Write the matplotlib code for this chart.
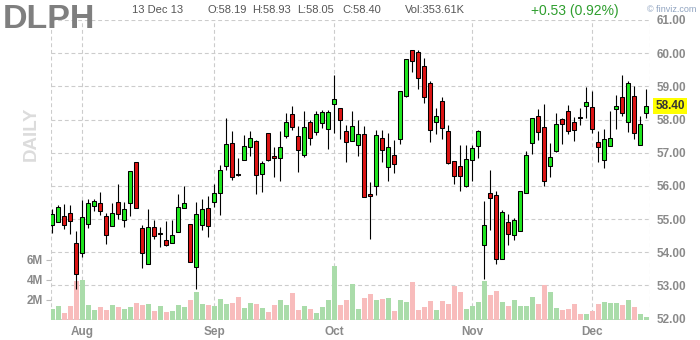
import numpy as np
import matplotlib
matplotlib.use("Agg")
import matplotlib.pyplot as plt
from matplotlib.transforms import blended_transform_factory

plt.rcParams['font.family'] = ['Liberation Sans', 'DejaVu Sans']

# ---------------- data ----------------
opens = [54.82, 54.91, 55.09, 55.19, 54.28, 53.98, 54.85, 55.38, 55.49, 55.10,
         54.79, 55.52, 54.98, 55.49, 56.72, 54.73, 53.65, 54.76, 54.55, 54.37,
         54.28, 54.61, 55.34, 54.85, 53.56, 54.81, 55.34, 55.51, 55.79, 56.59,
         57.29, 56.36, 56.77, 57.17, 57.36, 56.36, 57.59, 56.91, 56.84, 57.49,
         58.16, 57.50, 56.92, 57.92, 57.62, 57.89, 57.71, 58.47, 58.34, 57.66,
         57.34, 57.22, 57.56, 55.76, 56.00, 57.44, 56.57, 56.94, 57.41, 58.72,
         60.08, 60.03, 59.60, 59.10, 57.94, 58.55, 57.64, 56.74, 56.59, 55.99,
         56.78, 57.19, 54.21, 55.79, 55.73, 53.80, 54.91, 54.52, 54.64, 55.79,
         57.29, 58.11, 57.77, 56.59, 57.05, 58.01, 58.27, 57.94, 58.09, 58.40,
         58.37, 57.32, 56.79, 57.19, 58.32, 58.68, 57.92, 58.71, 57.24, 58.19]
highs = [55.29, 55.42, 55.44, 55.41, 54.63, 55.56, 55.59, 55.61, 55.82, 55.17,
         55.47, 56.06, 55.52, 56.45, 56.72, 54.83, 55.31, 54.98, 54.76, 54.94,
         54.98, 55.77, 56.01, 54.85, 55.50, 55.61, 55.71, 56.07, 56.64, 58.04,
         57.66, 56.83, 57.54, 57.66, 57.38, 56.74, 57.59, 57.18, 57.66, 58.20,
         58.41, 57.79, 58.26, 57.99, 58.27, 58.29, 58.29, 59.35, 58.34, 57.84,
         58.26, 57.99, 57.79, 56.11, 57.69, 57.67, 57.59, 57.39, 58.85, 59.82,
         60.10, 60.08, 59.85, 59.15, 58.34, 58.67, 57.84, 56.74, 57.24, 57.22,
         57.22, 57.69, 55.55, 56.49, 55.86, 55.28, 55.16, 55.03, 55.84, 57.06,
         58.06, 58.32, 58.47, 57.29, 58.21, 58.06, 58.44, 58.09, 58.36, 58.97,
         58.85, 57.66, 57.72, 58.26, 58.75, 59.34, 59.16, 59.01, 58.12, 58.93]
lows = [54.57, 54.90, 54.71, 54.54, 52.90, 53.85, 54.72, 55.24, 55.12, 54.24,
        54.78, 55.00, 54.76, 55.09, 55.34, 53.52, 53.65, 54.40, 54.15, 54.20,
        54.28, 54.61, 55.34, 53.71, 52.90, 54.68, 54.45, 55.36, 55.11, 56.49,
        56.19, 56.30, 56.77, 56.91, 55.75, 55.81, 56.75, 56.26, 56.14, 57.43,
        57.69, 56.41, 56.87, 57.22, 57.52, 57.74, 57.11, 57.59, 57.41, 56.72,
        57.34, 56.91, 55.67, 54.41, 55.72, 56.72, 56.16, 56.38, 57.26, 58.67,
        59.43, 58.93, 58.50, 57.31, 57.55, 57.41, 56.65, 56.07, 55.84, 55.96,
        56.16, 56.85, 53.20, 54.67, 53.65, 53.80, 54.21, 54.36, 54.64, 55.79,
        56.96, 57.38, 55.99, 56.27, 57.02, 57.26, 57.56, 57.34, 57.84, 58.04,
        57.59, 56.72, 56.54, 57.19, 57.71, 58.10, 57.61, 57.41, 57.24, 58.05]
closes = [55.16, 55.37, 54.82, 54.93, 53.35, 55.07, 55.49, 55.55, 55.24, 54.52,
          55.19, 55.16, 55.31, 56.45, 55.34, 53.98, 54.76, 54.50, 54.55, 54.22,
          54.52, 55.37, 55.47, 53.71, 55.14, 55.31, 54.78, 55.79, 56.48, 57.26,
          56.26, 56.34, 57.20, 57.44, 56.32, 56.70, 56.78, 56.84, 57.17, 57.92,
          57.77, 57.07, 57.77, 57.44, 58.16, 58.24, 58.24, 58.62, 57.99, 57.31,
          57.79, 57.56, 55.67, 55.70, 57.53, 57.08, 57.17, 56.66, 58.85, 59.82,
          59.77, 59.25, 58.69, 57.69, 58.12, 57.74, 56.70, 56.31, 56.30, 56.81,
          57.14, 57.64, 54.83, 55.64, 53.80, 55.21, 54.56, 54.96, 55.84, 56.94,
          58.04, 57.62, 56.14, 56.87, 57.86, 57.86, 57.66, 57.69, 58.04, 58.54,
          57.72, 57.16, 57.42, 57.45, 58.41, 58.21, 59.09, 57.59, 57.87, 58.40]
volumes_m = [1.13, 1.4, 0.7, 1.4, 3.93, 4.0, 1.5, 1.0, 1.33, 1.0,
             1.5, 1.33, 1.13, 1.3, 1.7, 1.5, 1.6, 0.9, 1.4, 0.8,
             0.9, 1.5, 1.3, 2.03, 2.8, 1.6, 1.47, 1.4, 2.1, 1.6,
             1.7, 2.3, 1.2, 1.7, 1.6, 1.2, 0.8, 1.5, 2.0, 1.5,
             2.7, 1.0, 1.4, 1.1, 0.7, 1.3, 2.0, 5.4, 1.5, 2.0,
             3.6, 1.1, 2.2, 2.6, 2.0, 2.1, 2.2, 0.9, 2.0, 1.8,
             3.8, 1.0, 1.3, 1.9, 1.0, 1.9, 1.6, 3.4, 2.8, 1.1,
             1.4, 1.8, 3.9, 2.5, 2.9, 1.8, 1.4, 2.0, 1.4, 1.4,
             2.3, 1.6, 3.5, 2.8, 1.2, 1.0, 1.1, 1.6, 0.6, 0.6,
             0.9, 1.6, 1.8, 1.7, 1.7, 1.5, 2.0, 1.3, 0.6, 0.35]
month_labels = ['Aug', 'Sep', 'Oct', 'Nov', 'Dec']
month_start_idx = [5, 27, 47, 70, 90]
price_ticks = [52, 53, 54, 55, 56, 57, 58, 59, 60, 61]
vol_ticks_m = [2, 4, 6]
vol_tick_labels = ['2M', '4M', '6M']
ticker = 'DLPH'
period = 'DAILY'
last_date = '13 Dec 13'
last_volume = '353.61K'
last_close = closes[-1]

# ---------------- style ----------------
W, H = 700, 340
GREEN = '#1ee61e'
RED = '#dc1414'
VGREEN = '#aadcaa'
VRED = '#f8bcbc'
GRID = '#cccccc'
LABEL = '#8a8a8a'

o = np.array(opens); h = np.array(highs); l = np.array(lows); c = np.array(closes)
v = np.array(volumes_m) * 1e6
x = np.arange(len(o))
up = c >= o

fig = plt.figure(figsize=(7, 3.4), dpi=100)
fig.patch.set_facecolor('white')

left, right, top, bottom = 50.7, 650.0, 19.8, 320.0
rect = [left / W, 1 - bottom / H, (right - left) / W, (bottom - top) / H]
ax_vol = fig.add_axes(rect, zorder=1)
ax = fig.add_axes(rect, zorder=2)
ax.patch.set_visible(False)

xlim = (-0.27, 99.62)
for a in (ax, ax_vol):
    a.set_xlim(*xlim)
    for s in a.spines.values():
        s.set_visible(False)

ax.set_ylim(51.958, 61.005)
ax_vol.set_ylim(0, 30.02e6)

# grid (drawn below volume bars)
dash = (0, (3.5, 2.5))
trans_h = blended_transform_factory(ax_vol.transAxes, ax.transData)
ax_vol.hlines(price_ticks, 0, 1, transform=trans_h, colors=GRID,
              linewidth=0.8, linestyles=dash, zorder=0)
ax_vol.vlines(month_start_idx, 0, 1, transform=blended_transform_factory(ax_vol.transData, ax_vol.transAxes),
              colors=GRID, linewidth=0.8, linestyles=dash, zorder=0)
ax_vol.vlines([0, 1], 0, 1, transform=ax_vol.transAxes, colors=GRID,
              linewidth=0.8, linestyles=dash, zorder=0)

# volume
ax_vol.bar(x, v, width=0.82, color=np.where(up, VGREEN, VRED), linewidth=0, zorder=2)

# candles
ax.vlines(x, l, h, colors='black', linewidth=0.8, zorder=3)
body_h = np.maximum(np.abs(c - o), 0.025)
ax.bar(x, body_h, bottom=np.minimum(o, c), width=0.72,
       color=np.where(up, GREEN, RED), edgecolor='black', linewidth=0.75, zorder=4)

# price axis on right
ax.yaxis.tick_right()
ax.set_yticks(price_ticks)
ax.set_yticklabels([f'{p:.2f}' for p in price_ticks])
ax.tick_params(axis='y', length=0, pad=5, labelsize=8.5, labelcolor=LABEL)
for t in ax.get_yticklabels():
    t.set_fontweight('bold')

# month labels
ax.set_xticks(month_start_idx)
ax.set_xticklabels(month_labels)
ax.tick_params(axis='x', length=0, pad=4.5, labelsize=8.5, labelcolor=LABEL)
for t in ax.get_xticklabels():
    t.set_fontweight('bold')

# volume axis on left
ax_vol.set_xticks([])
ax_vol.set_yticks([m * 1e6 for m in vol_ticks_m])
ax_vol.set_yticklabels(vol_tick_labels)
ax_vol.tick_params(axis='y', length=3.5, width=0.8, color='#bbbbbb', pad=2,
                   labelsize=8.5, labelcolor=LABEL)
for t in ax_vol.get_yticklabels():
    t.set_fontweight('bold')

# last price label
ax.text(1 + 5.5 / (right - left), last_close, f'{last_close:.2f}',
        transform=blended_transform_factory(ax.transAxes, ax.transData),
        ha='left', va='center', fontsize=8.5, fontweight='bold', color='#333333',
        bbox=dict(boxstyle='square,pad=0.18', facecolor='#ffff00', edgecolor='none'),
        zorder=10, clip_on=False)

# header
def fx(px):
    return px / W
def fy(py):
    return 1 - py / H

fig.text(fx(3), fy(20), ticker, fontsize=24.5, fontweight='bold', color='#7f7f7f',
         ha='left', va='center')
fig.text(fx(31), fy(134), period, fontsize=13.5, fontweight='bold', color='#dcdcdc',
         rotation=90, ha='center', va='center')
fig.text(fx(132), fy(10), last_date, fontsize=8, color='#555555', ha='left', va='center')
fig.text(fx(207), fy(10), f'O:{opens[-1]:.2f}', fontsize=8, color='#555555', ha='left', va='center')
fig.text(fx(252), fy(10), f'H:{highs[-1]:.2f}', fontsize=8, color='#555555', ha='left', va='center')
fig.text(fx(297), fy(10), f'L:{lows[-1]:.2f}', fontsize=8, color='#555555', ha='left', va='center')
fig.text(fx(342), fy(10), f'C:{closes[-1]:.2f}', fontsize=8, color='#555555', ha='left', va='center')
fig.text(fx(405), fy(10), f'Vol:{last_volume}', fontsize=8, color='#555555', ha='left', va='center')
chg = closes[-1] - closes[-2]
fig.text(fx(531), fy(11), f'+{chg:.2f} ({chg / closes[-2] * 100:.2f}%)', fontsize=10,
         color='#2e9e2e', ha='left', va='center')
fig.text(fx(647), fy(10), '© finviz.com', fontsize=6.5, color='#8fa3c0', ha='left', va='center')

fig.savefig('out.png', dpi=100, facecolor='white')
